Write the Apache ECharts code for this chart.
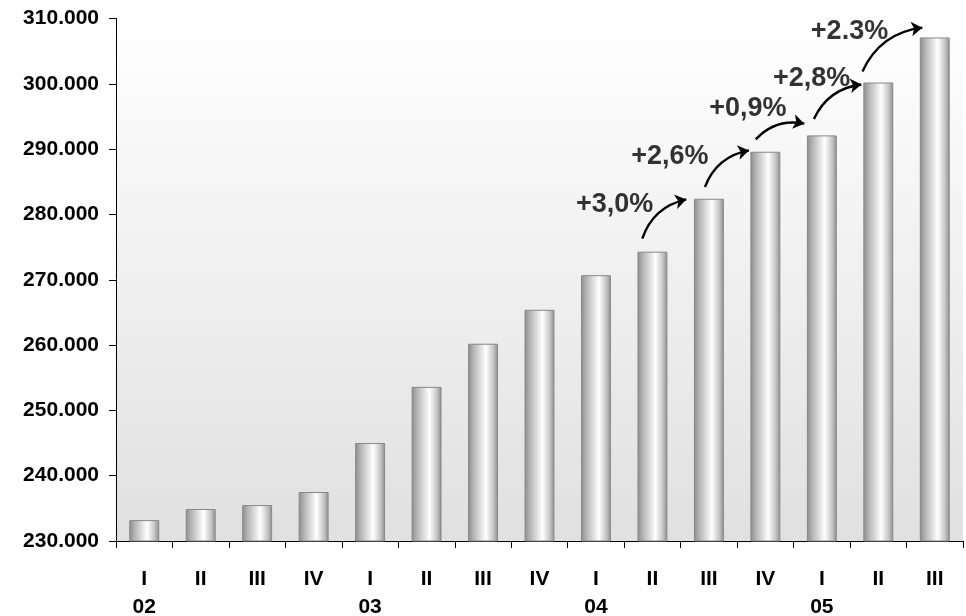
<!DOCTYPE html>
<html>
<head>
<meta charset="utf-8">
<script src="https://cdn.jsdelivr.net/npm/echarts@6/dist/echarts.min.js"></script>
<style>html,body{margin:0;padding:0;background:#fff}#c{width:966px;height:616px}</style>
</head>
<body>
<div id="c"></div>
<script>
var quarters = ['I','II','III','IV','I','II','III','IV','I','II','III','IV','I','II','III'];
var years = ['02','','','','03','','','','04','','','','05','',''];
var values = [233200, 234900, 235500, 237500, 245000, 253600, 260200, 265400, 270700, 274300, 282400, 289600, 292100, 300200, 307100];
var yTicks = {min: 230000, max: 310000, interval: 10000};

var growthLabels = ['+3,0%', '+2,6%', '+0,9%', '+2,8%', '+2.3%'];
var growthLabelX = [8.33, 9.31, 10.69, 11.82, 12.49];
var growthLabelY = [281500, 288850, 296200, 300800, 308000];
var arrowFrom = [[8.82, 276300], [9.93, 284200], [10.83, 291500], [11.86, 294600], [12.72, 301900]];
var arrowTo = [[9.60, 282300], [10.71, 289800], [11.69, 293900], [12.70, 299900], [13.78, 308600]];

function fmt(v) {
  return String(Math.round(v)).replace(/\B(?=(\d{3})+(?!\d))/g, '.');
}

var chart = echarts.init(document.getElementById('c'), null, {renderer: 'canvas'});
var font = 'Liberation Sans, Arial, sans-serif';

chart.setOption({
  animation: false,
  grid: {
    left: 116, right: 3, top: 18.5, bottom: 75,
    containLabel: false,
    outerBoundsMode: 'none',
    show: true,
    borderWidth: 0,
    backgroundColor: new echarts.graphic.LinearGradient(0, 0, 0, 1, [
      {offset: 0, color: '#ffffff'},
      {offset: 1, color: '#e0e0e0'}
    ])
  },
  xAxis: [{
    type: 'category',
    data: quarters,
    axisLine: {show: true, onZero: false, lineStyle: {color: '#000', width: 1}},
    axisTick: {show: true, length: 7, lineStyle: {color: '#000'}},
    axisLabel: {
      color: '#000', fontFamily: font, fontWeight: 'bold', fontSize: 21,
      margin: 24, lineHeight: 28, interval: 0,
      formatter: function (v, i) { return years[i] ? v + '\n' + years[i] : v + '\n '; }
    },
    splitLine: {show: false}
  }, {
    type: 'value', min: -0.5, max: 14.5, show: false
  }],
  yAxis: {
    type: 'value',
    min: yTicks.min, max: yTicks.max, interval: yTicks.interval,
    axisLine: {show: true, onZero: false, lineStyle: {color: '#000', width: 1}},
    axisTick: {show: true, length: 7, lineStyle: {color: '#000'}},
    axisLabel: {
      color: '#000', fontFamily: font, fontWeight: 'bold', fontSize: 21, margin: 17,
      formatter: fmt
    },
    splitLine: {show: false}
  },
  series: [{
    type: 'bar',
    data: values,
    barWidth: '53%',
    xAxisIndex: 0,
    itemStyle: {
      color: new echarts.graphic.LinearGradient(0, 0, 1, 0, [
        {offset: 0, color: '#8c8c8c'},
        {offset: 0.2, color: '#b8b8b8'},
        {offset: 0.6, color: '#ffffff'},
        {offset: 0.85, color: '#c4c4c4'},
        {offset: 1, color: '#8c8c8c'}
      ]),
      borderColor: '#888888',
      borderWidth: 1
    },
    silent: true
  }, {
    type: 'lines',
    coordinateSystem: 'cartesian2d',
    xAxisIndex: 1,
    yAxisIndex: 0,
    symbol: ['none', 'arrow'],
    symbolSize: 11,
    lineStyle: {color: '#000', width: 2.4, curveness: 0.28, opacity: 1},
    data: arrowFrom.map(function (a, i) { return {coords: [a, arrowTo[i]]}; }),
    silent: true,
    z: 5
  }, {
    type: 'scatter',
    xAxisIndex: 1,
    yAxisIndex: 0,
    symbolSize: 0,
    itemStyle: {color: '#000'},
    data: growthLabels.map(function (t, i) { return [growthLabelX[i], growthLabelY[i], t]; }),
    label: {
      show: true, position: [0, 0], align: 'center', verticalAlign: 'middle',
      color: '#000', fontFamily: font, fontWeight: 'bold', fontSize: 27,
      textBorderWidth: 0,
      formatter: function (p) { return p.value[2]; }
    },
    silent: true,
    z: 6
  }]
});
</script>
</body>
</html>
